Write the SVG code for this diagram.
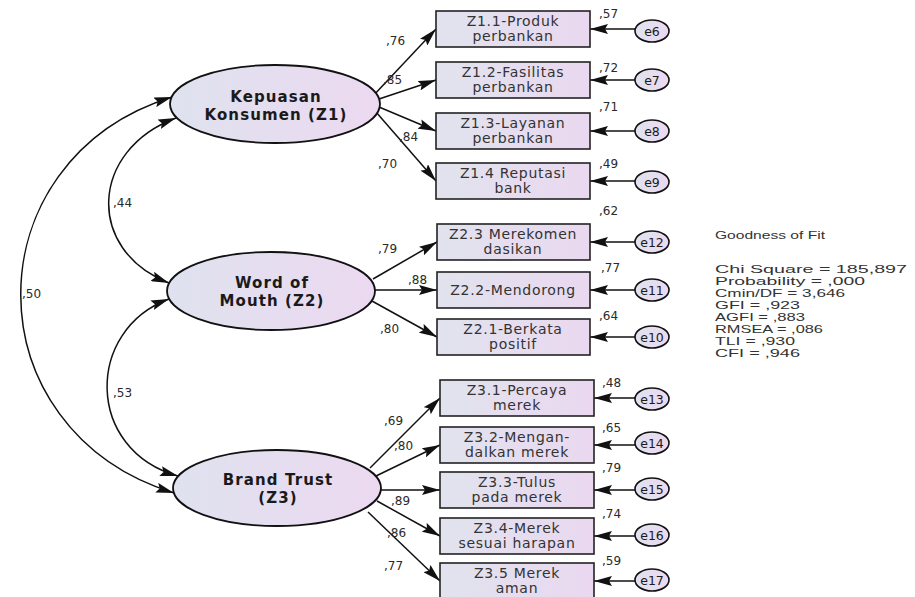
<svg xmlns="http://www.w3.org/2000/svg" width="915" height="597" viewBox="0 0 915 597">
  <style>
    .lat { stroke:#111; stroke-width:1.8; fill:url(#fillLat); }
    .obs { stroke:#222; stroke-width:1.6; fill:url(#fillObs); }
    .err { stroke:#111; stroke-width:1.6; fill:url(#fillLat); }
    .edge { stroke:#111; stroke-width:1.5; fill:none; }
    .ltxt { font-family:"DejaVu Sans", Verdana, sans-serif; font-size:15px; font-weight:bold; letter-spacing:1.1px; fill:#1a1a1a; text-anchor:middle; }
    .btxt { font-family:"DejaVu Sans", Verdana, sans-serif; font-size:14px; letter-spacing:0.7px; fill:#333; text-anchor:middle; }
    .etxt { font-family:"DejaVu Sans", Verdana, sans-serif; font-size:12.5px; fill:#1a1a1a; text-anchor:middle; }
    .num { font-family:"DejaVu Sans", Verdana, sans-serif; font-size:12px; fill:#2a2a2a; }
    .fit { font-family:"Liberation Sans", Arial, sans-serif; font-size:10.5px; fill:#333; }
  </style>
  <defs>
    <linearGradient id="fillLat" x1="0" y1="0" x2="1" y2="0">
      <stop offset="0" stop-color="#dfe2ef"/>
      <stop offset="1" stop-color="#ecd9f1"/>
    </linearGradient>
    <linearGradient id="fillObs" x1="0" y1="0" x2="1" y2="0">
      <stop offset="0" stop-color="#e1e3ee"/>
      <stop offset="1" stop-color="#ead8f0"/>
    </linearGradient>
    <marker id="head" markerUnits="userSpaceOnUse" markerWidth="19" markerHeight="10" refX="18" refY="5" orient="auto-start-reverse">
      <path d="M0,0 L18,5 L0,10 L3,5 z" fill="#111"/>
    </marker>
  </defs>

  <rect width="915" height="597" fill="#ffffff"/>

  <!-- connectors -->
  <g id="connectors">
    <!-- covariances -->
    <path class="edge" d="M172,97 C-30,160 -30,430 174,493" marker-start="url(#head)" marker-end="url(#head)"/>
    <path class="edge" d="M176,118 C90,150 85,250 169,283" marker-start="url(#head)" marker-end="url(#head)"/>
    <path class="edge" d="M169,299 C85,330 85,450 178,476" marker-start="url(#head)" marker-end="url(#head)"/>

    <!-- Z1 loadings -->
    <line class="edge" x1="372" y1="97" x2="436" y2="29" marker-end="url(#head)"/>
    <line class="edge" x1="376" y1="100" x2="436" y2="80" marker-end="url(#head)"/>
    <line class="edge" x1="379" y1="107" x2="436" y2="131" marker-end="url(#head)"/>
    <line class="edge" x1="376" y1="112" x2="436" y2="181" marker-end="url(#head)"/>

    <!-- Z2 loadings -->
    <line class="edge" x1="373" y1="279" x2="437" y2="242" marker-end="url(#head)"/>
    <line class="edge" x1="375" y1="290" x2="437" y2="290" marker-end="url(#head)"/>
    <line class="edge" x1="372" y1="301" x2="437" y2="337" marker-end="url(#head)"/>

    <!-- Z3 loadings -->
    <line class="edge" x1="370" y1="468" x2="440" y2="398" marker-end="url(#head)"/>
    <line class="edge" x1="376" y1="476" x2="440" y2="445" marker-end="url(#head)"/>
    <line class="edge" x1="381" y1="490" x2="440" y2="490" marker-end="url(#head)"/>
    <line class="edge" x1="377" y1="501" x2="440" y2="536" marker-end="url(#head)"/>
    <line class="edge" x1="368" y1="512" x2="440" y2="581" marker-end="url(#head)"/>

    <!-- error terms -->
    <line class="edge" x1="635" y1="29" x2="590" y2="29" marker-end="url(#head)"/>
    <line class="edge" x1="635" y1="80" x2="590" y2="80" marker-end="url(#head)"/>
    <line class="edge" x1="635" y1="131" x2="590" y2="131" marker-end="url(#head)"/>
    <line class="edge" x1="635" y1="181" x2="590" y2="181" marker-end="url(#head)"/>
    <line class="edge" x1="635" y1="242" x2="590" y2="242" marker-end="url(#head)"/>
    <line class="edge" x1="635" y1="290" x2="590" y2="290" marker-end="url(#head)"/>
    <line class="edge" x1="635" y1="337" x2="590" y2="337" marker-end="url(#head)"/>
    <line class="edge" x1="635" y1="398" x2="594" y2="398" marker-end="url(#head)"/>
    <line class="edge" x1="635" y1="445" x2="594" y2="445" marker-end="url(#head)"/>
    <line class="edge" x1="635" y1="490" x2="594" y2="490" marker-end="url(#head)"/>
    <line class="edge" x1="635" y1="536" x2="594" y2="536" marker-end="url(#head)"/>
    <line class="edge" x1="635" y1="581" x2="594" y2="581" marker-end="url(#head)"/>

    <!-- coefficient labels -->
    <text class="num" x="22" y="298">,50</text>
    <text class="num" x="113" y="207">,44</text>
    <text class="num" x="113" y="397">,53</text>

    <text class="num" x="386" y="45">,76</text>
    <text class="num" x="383" y="84">,85</text>
    <text class="num" x="399" y="141">,84</text>
    <text class="num" x="378" y="168">,70</text>

    <text class="num" x="378" y="253">,79</text>
    <text class="num" x="408" y="284">,88</text>
    <text class="num" x="380" y="333">,80</text>

    <text class="num" x="384" y="425">,69</text>
    <text class="num" x="394" y="450">,80</text>
    <text class="num" x="391" y="505">,89</text>
    <text class="num" x="387" y="537">,86</text>
    <text class="num" x="384" y="570">,77</text>

    <text class="num" x="599" y="18">,57</text>
    <text class="num" x="599" y="72">,72</text>
    <text class="num" x="599" y="111">,71</text>
    <text class="num" x="599" y="168">,49</text>
    <text class="num" x="599" y="215">,62</text>
    <text class="num" x="601" y="272">,77</text>
    <text class="num" x="599" y="320">,64</text>
    <text class="num" x="602" y="387">,48</text>
    <text class="num" x="602" y="432">,65</text>
    <text class="num" x="602" y="472">,79</text>
    <text class="num" x="602" y="518">,74</text>
    <text class="num" x="602" y="565">,59</text>
  </g>

  <!-- latent constructs -->
  <g id="Z1">
    <ellipse class="lat" cx="275" cy="104" rx="105" ry="39"/>
    <text class="ltxt" x="276" y="102">Kepuasan</text>
    <text class="ltxt" x="276" y="120">Konsumen (Z1)</text>
  </g>
  <g id="Z2">
    <ellipse class="lat" cx="271" cy="291" rx="104" ry="39"/>
    <text class="ltxt" x="272" y="288">Word of</text>
    <text class="ltxt" x="272" y="306">Mouth (Z2)</text>
  </g>
  <g id="Z3">
    <ellipse class="lat" cx="277" cy="488" rx="104" ry="38"/>
    <text class="ltxt" x="278" y="485">Brand Trust</text>
    <text class="ltxt" x="278" y="503">(Z3)</text>
  </g>

  <!-- indicators of Z1 -->
  <g id="Z1_1"><rect class="obs" x="436" y="11" width="154" height="36"/><text class="btxt" x="513" y="26">Z1.1-Produk</text><text class="btxt" x="513" y="41">perbankan</text></g>
  <g id="Z1_2"><rect class="obs" x="436" y="62" width="154" height="36"/><text class="btxt" x="513" y="77">Z1.2-Fasilitas</text><text class="btxt" x="513" y="92">perbankan</text></g>
  <g id="Z1_3"><rect class="obs" x="436" y="113" width="154" height="36"/><text class="btxt" x="513" y="128">Z1.3-Layanan</text><text class="btxt" x="513" y="143">perbankan</text></g>
  <g id="Z1_4"><rect class="obs" x="436" y="163" width="154" height="36"/><text class="btxt" x="513" y="178">Z1.4 Reputasi</text><text class="btxt" x="513" y="193">bank</text></g>

  <!-- indicators of Z2 -->
  <g id="Z2_3"><rect class="obs" x="437" y="224" width="153" height="36"/><text class="btxt" x="513" y="239">Z2.3 Merekomen</text><text class="btxt" x="513" y="254">dasikan</text></g>
  <g id="Z2_2"><rect class="obs" x="437" y="272" width="153" height="36"/><text class="btxt" x="513" y="295">Z2.2-Mendorong</text></g>
  <g id="Z2_1"><rect class="obs" x="437" y="319" width="153" height="36"/><text class="btxt" x="513" y="334">Z2.1-Berkata</text><text class="btxt" x="513" y="349">positif</text></g>

  <!-- indicators of Z3 -->
  <g id="Z3_1"><rect class="obs" x="440" y="380" width="154" height="36"/><text class="btxt" x="517" y="395">Z3.1-Percaya</text><text class="btxt" x="517" y="410">merek</text></g>
  <g id="Z3_2"><rect class="obs" x="440" y="427" width="154" height="36"/><text class="btxt" x="517" y="442">Z3.2-Mengan-</text><text class="btxt" x="517" y="457">dalkan merek</text></g>
  <g id="Z3_3"><rect class="obs" x="440" y="472" width="154" height="36"/><text class="btxt" x="517" y="487">Z3.3-Tulus</text><text class="btxt" x="517" y="502">pada merek</text></g>
  <g id="Z3_4"><rect class="obs" x="440" y="518" width="154" height="36"/><text class="btxt" x="517" y="533">Z3.4-Merek</text><text class="btxt" x="517" y="548">sesuai harapan</text></g>
  <g id="Z3_5"><rect class="obs" x="440" y="563" width="154" height="36"/><text class="btxt" x="517" y="578">Z3.5 Merek</text><text class="btxt" x="517" y="593">aman</text></g>

  <!-- error terms -->
  <g id="e6"><ellipse class="err" cx="652" cy="31" rx="17" ry="11"/><text class="etxt" x="652" y="35.5">e6</text></g>
  <g id="e7"><ellipse class="err" cx="652" cy="80" rx="17" ry="11"/><text class="etxt" x="652" y="84.5">e7</text></g>
  <g id="e8"><ellipse class="err" cx="652" cy="131" rx="17" ry="11"/><text class="etxt" x="652" y="135.5">e8</text></g>
  <g id="e9"><ellipse class="err" cx="652" cy="182" rx="17" ry="11"/><text class="etxt" x="652" y="186.5">e9</text></g>
  <g id="e12"><ellipse class="err" cx="652" cy="242" rx="17" ry="11"/><text class="etxt" x="652" y="246.5">e12</text></g>
  <g id="e11"><ellipse class="err" cx="652" cy="290" rx="17" ry="11"/><text class="etxt" x="652" y="294.5">e11</text></g>
  <g id="e10"><ellipse class="err" cx="652" cy="337" rx="17" ry="11"/><text class="etxt" x="652" y="341.5">e10</text></g>
  <g id="e13"><ellipse class="err" cx="652" cy="399" rx="17" ry="11"/><text class="etxt" x="652" y="403.5">e13</text></g>
  <g id="e14"><ellipse class="err" cx="652" cy="443" rx="17" ry="11"/><text class="etxt" x="652" y="447.5">e14</text></g>
  <g id="e15"><ellipse class="err" cx="652" cy="489" rx="17" ry="11"/><text class="etxt" x="652" y="493.5">e15</text></g>
  <g id="e16"><ellipse class="err" cx="652" cy="535" rx="17" ry="11"/><text class="etxt" x="652" y="539.5">e16</text></g>
  <g id="e17"><ellipse class="err" cx="652" cy="580" rx="17" ry="11"/><text class="etxt" x="652" y="584.5">e17</text></g>

  <!-- model fit summary -->
  <g id="fit">
    <text class="fit" x="715" y="239" textLength="110" lengthAdjust="spacingAndGlyphs">Goodness of Fit</text>
    <text class="fit" x="715" y="273" textLength="192" lengthAdjust="spacingAndGlyphs">Chi Square = 185,897</text>
    <text class="fit" x="715" y="285" textLength="150" lengthAdjust="spacingAndGlyphs">Probability = ,000</text>
    <text class="fit" x="715" y="297" textLength="130" lengthAdjust="spacingAndGlyphs">Cmin/DF = 3,646</text>
    <text class="fit" x="715" y="309" textLength="85" lengthAdjust="spacingAndGlyphs">GFI = ,923</text>
    <text class="fit" x="715" y="321" textLength="90" lengthAdjust="spacingAndGlyphs">AGFI = ,883</text>
    <text class="fit" x="715" y="333" textLength="108" lengthAdjust="spacingAndGlyphs">RMSEA = ,086</text>
    <text class="fit" x="715" y="345" textLength="80" lengthAdjust="spacingAndGlyphs">TLI = ,930</text>
    <text class="fit" x="715" y="357" textLength="85" lengthAdjust="spacingAndGlyphs">CFI = ,946</text>
  </g>
</svg>
